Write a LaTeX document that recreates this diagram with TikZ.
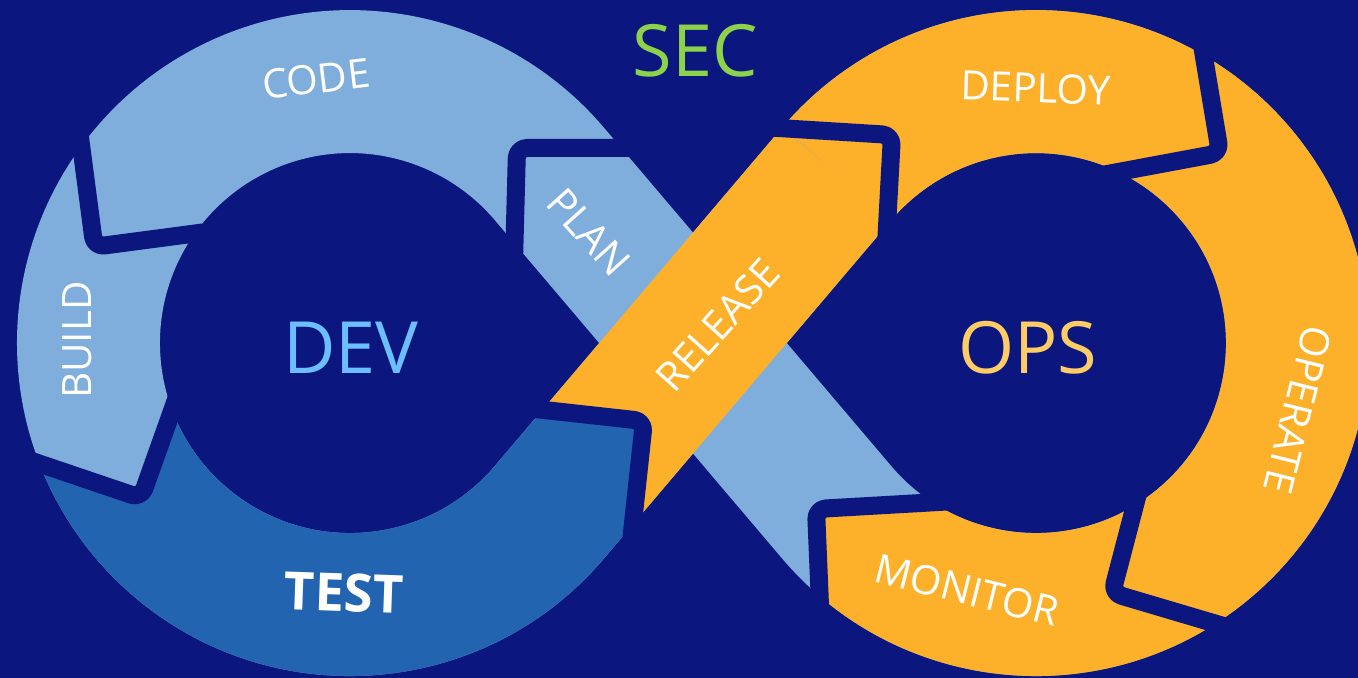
\documentclass[tikz,border=0pt]{standalone}
\usepackage{fontspec}
\setmainfont{Open Sans}

\definecolor{gapblue}{RGB}{11,23,126}
\definecolor{lightband}{RGB}{128,174,220}
\definecolor{testband}{RGB}{34,100,176}
\definecolor{opsband}{RGB}{253,176,42}
\definecolor{devtext}{RGB}{108,190,255}
\definecolor{opstext}{RGB}{255,204,102}
\definecolor{sectext}{RGB}{140,210,74}

\begin{document}
\begin{tikzpicture}[
    x=0.02cm, y=-0.02cm,
    track/.style={line width=2.86cm},
    gap/.style={draw=gapblue, line width=0.36cm, rounded corners=0.2cm, line join=round},
    stage/.style={text=white, inner sep=0pt, font=\fontsize{23}{23}\selectfont},
    loopname/.style={inner sep=0pt, font=\fontsize{41}{41}\selectfont}
]

% Background
\useasboundingbox (0,0) rectangle (1358,678);
\clip (0,0) rectangle (1358,678);
\fill[gapblue] (0,0) rectangle (1358,678);

% Loop centres and tangent points
\coordinate (devc) at (350,343);
\coordinate (opsc) at (1036,343);
\coordinate (devlow) at (549.3,512.3);
\coordinate (devup) at (549.3,173.7);
\coordinate (opslow) at (836.7,512.3);
\coordinate (opsup) at (836.7,173.7);

% Infinity track
\draw[track, lightband] (devlow) arc[start angle=40.33, end angle=319.67, radius=261.5]
    -- (opslow) arc[start angle=139.67, end angle=-139.67, radius=261.5] -- cycle;

% Release band
\begin{scope}
\clip (535,0) -- (535,409) -- (644,421) -- (629,560) -- (629,700) -- (1400,700) -- (1400,0) -- cycle;
\draw[track, opsband] (devlow) -- (opsup);
\end{scope}

% Ops loop
\begin{scope}
\clip (816,700) -- (816,509) -- (956,501) -- (1036,343) -- (600,343) -- (600,0) -- (1400,0) -- (1400,700) -- cycle;
\draw[track, opsband] (783.8,450) -- (opslow) arc[start angle=139.67, end angle=-139.67, radius=261.5];
\end{scope}

% Test segment
\begin{scope}
\clip (0,453) -- (8,453) -- (141,498) -- (178,394) -- (350,343) -- (535,409) -- (644,421) -- (629,560) -- (629,700) -- (0,700) -- cycle;
\draw[track, testband] (opsup) -- (devlow) arc[start angle=40.33, end angle=319.67, radius=261.5];
\end{scope}

% Gaps
\draw[gap] (77.5,118) -- (94.4,246.8) -- (203.4,232.4);
\draw[gap] (8,453) -- (141,498) -- (178,394);
\draw[gap] (535,409) -- (644,421) -- (629,560);
\draw[gap] (640,148) -- (517,148) -- (514,262);
\draw[gap] (762,127) -- (892,135) -- (886,245);
\draw[gap] (1197,15) -- (1220,153) -- (1102,175);
\draw[gap] (1141,482) -- (1112,593) -- (1237,630);
\draw[gap] (956,501) -- (816,509) -- (821,629);

% Names
\node[loopname, text=sectext] (sec) at (695,51) {SEC};
\node[loopname, text=devtext] (dev) at (351,348) {DEV};
\node[loopname, text=opstext] (ops) at (1028,348) {OPS};

% Stages
\node[stage, rotate=7] (code) at (316,79) {CODE};
\node[stage, rotate=90] (build) at (77,340) {BUILD};
\node[stage, rotate=-2, font=\bfseries\fontsize{30}{30}\selectfont] (test) at (344,593) {TEST};
\node[stage, rotate=-48] (plan) at (589,232) {PLAN};
\node[stage, rotate=48] (release) at (718,325) {RELEASE};
\node[stage, rotate=-2] (deploy) at (1036,88) {DEPLOY};
\node[stage, rotate=-104] (operate) at (1298,410) {OPERATE};
\node[stage, rotate=-14] (monitor) at (967,590) {MONITOR};

\end{tikzpicture}
\end{document}
